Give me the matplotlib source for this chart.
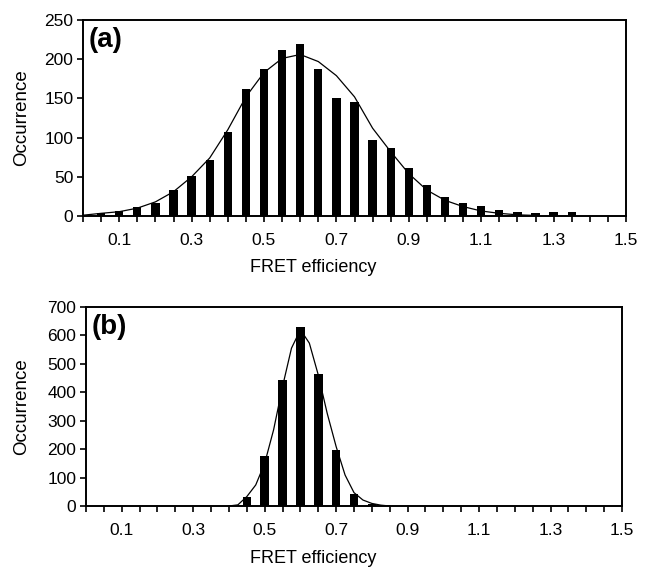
import matplotlib
matplotlib.use("Agg")
import matplotlib.pyplot as plt
import numpy as np

plt.rcParams['font.family'] = ['Liberation Sans', 'DejaVu Sans']

# ---- data: panel (a)
a_bins = [0.05, 0.10, 0.15, 0.20, 0.25, 0.30, 0.35, 0.40, 0.45, 0.50, 0.55, 0.60,
          0.65, 0.70, 0.75, 0.80, 0.85, 0.90, 0.95, 1.00, 1.05, 1.10, 1.15, 1.20,
          1.25, 1.30, 1.35]
a_counts = [4, 6, 11, 16, 33, 51, 71, 107, 162, 188, 212, 219,
            187, 151, 146, 97, 87, 61, 40, 24, 17, 13, 8, 5,
            4, 5, 5]
a_fit_x = [0.00, 0.05, 0.10, 0.15, 0.20, 0.25, 0.30, 0.35, 0.40, 0.45, 0.50, 0.55,
           0.60, 0.65, 0.70, 0.75, 0.80, 0.85, 0.90, 0.95, 1.00, 1.05, 1.10, 1.15,
           1.20, 1.25]
a_fit_y = [1, 3.4, 5.5, 10, 18, 31, 50, 74, 110, 152, 183, 201,
           206, 197, 179, 152, 112, 82, 54, 33, 20, 12, 6.4, 3.4,
           1.5, 0.7]

# ---- data: panel (b)
b_bins = [0.45, 0.50, 0.55, 0.60, 0.65, 0.70, 0.75, 0.80]
b_counts = [31, 177, 444, 628, 463, 196, 43, 8]
b_fit_x = [0.40, 0.425, 0.45, 0.475, 0.50, 0.525, 0.55, 0.575, 0.60, 0.625, 0.65,
           0.675, 0.70, 0.725, 0.75, 0.775, 0.80, 0.825, 0.85]
b_fit_y = [0, 4, 33, 74, 150, 268, 420, 555, 620, 573, 461,
           326, 209, 109, 47, 21, 9, 3, 0]

x_labels = ['0.1', '0.3', '0.5', '0.7', '0.9', '1.1', '1.3', '1.5']
a_yticks = [0, 50, 100, 150, 200, 250]
b_yticks = [0, 100, 200, 300, 400, 500, 600, 700]

W, H = 646, 567
fig = plt.figure(figsize=(W / 100, H / 100), dpi=100)

def px_axes(l, t, r, b):
    return fig.add_axes([l / W, 1 - b / H, (r - l) / W, (b - t) / H])

ax_a = px_axes(83, 20, 626, 216)
ax_b = px_axes(86, 307, 622, 506)

tick_pos = [round(0.05 * i, 2) for i in range(31)]
label_vals = [float(s) for s in x_labels]

def style(ax, yticks, ymax, letter):
    ax.set_xlim(0, 1.5)
    ax.set_ylim(0, ymax)
    ax.set_xticks(tick_pos)
    ax.set_xticklabels([s if any(abs(p - v) < 1e-6 for v in label_vals) else ''
                        for p, s in zip(tick_pos, [f"{p:g}" for p in tick_pos])])
    ax.set_yticks(yticks)
    ax.set_yticklabels([str(v) for v in yticks])
    ax.tick_params(axis='both', direction='out', length=4, width=1.2,
                   labelsize=12.5, color='black', pad=3)
    ax.tick_params(axis='x', pad=8)
    for sp in ax.spines.values():
        sp.set_linewidth(1.4)
        sp.set_color('black')
    ax.set_xlabel('FRET efficiency', fontsize=13)
    ax.set_ylabel('Occurrence', fontsize=13.5)
    ax.text(0.01, 0.965, letter, transform=ax.transAxes, fontsize=20,
            fontweight='bold', va='top', ha='left')

ax_a.bar(a_bins, a_counts, width=0.023, color='black', zorder=2)
ax_a.plot(a_fit_x, a_fit_y, color='black', lw=0.9, zorder=3)
style(ax_a, a_yticks, 250, '(a)')

ax_b.bar(b_bins, b_counts, width=0.024, color='black', zorder=2)
ax_b.plot(b_fit_x, b_fit_y, color='black', lw=0.9, zorder=3)
style(ax_b, b_yticks, 700, '(b)')

ax_a.yaxis.set_label_coords(-0.097, 0.5)
ax_b.yaxis.set_label_coords(-0.104, 0.5)
ax_a.xaxis.set_label_coords((313 - 83) / 543, -0.22)
ax_b.xaxis.set_label_coords((313 - 86) / 536, -0.22)

fig.savefig('out.png', dpi=100)
